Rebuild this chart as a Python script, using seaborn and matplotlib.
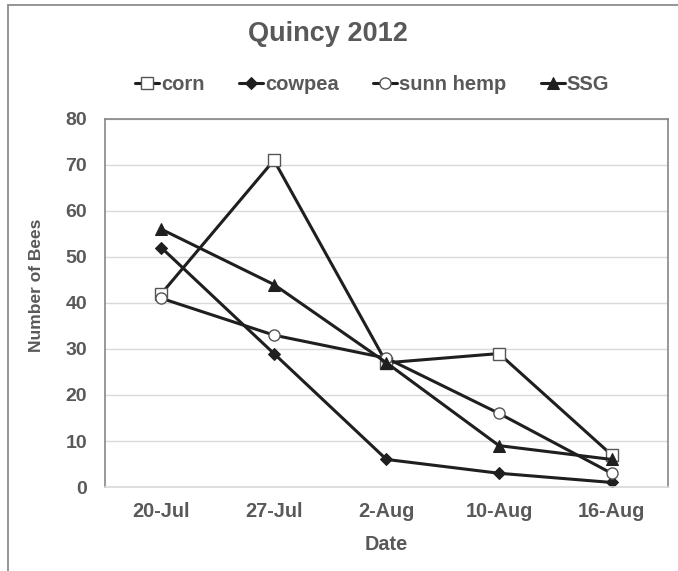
import numpy as np
import pandas as pd
import seaborn as sns
import matplotlib.pyplot as plt
from matplotlib.lines import Line2D

dates = ["20-Jul", "27-Jul", "2-Aug", "10-Aug", "16-Aug"]
corn = [42, 71, 27, 29, 7]
cowpea = [52, 29, 6, 3, 1]
sunn_hemp = [41, 33, 28, 16, 3]
ssg = [56, 44, 27, 9, 6]

series_names = ["corn", "cowpea", "sunn hemp", "SSG"]
series_values = [corn, cowpea, sunn_hemp, ssg]

TEXT = "#595959"
LINE = "#1f1f1f"

sns.set_theme(style="white")
plt.rcParams['font.family'] = ['Liberation Sans', 'DejaVu Sans']
plt.rcParams['font.weight'] = 'bold'

rows = []
for name, vals in zip(series_names, series_values):
    for i, v in enumerate(vals):
        rows.append({"series": name, "pos": i, "date": dates[i], "bees": v})
df = pd.DataFrame(rows)

marker_style = {
    "corn": dict(marker="s", markerfacecolor="white", markeredgecolor="#555555", markersize=8, markeredgewidth=1.0),
    "cowpea": dict(marker="D", markerfacecolor=LINE, markeredgecolor=LINE, markersize=6),
    "sunn hemp": dict(marker="o", markerfacecolor="white", markeredgecolor="#555555", markersize=8, markeredgewidth=1.0),
    "SSG": dict(marker="^", markerfacecolor=LINE, markeredgecolor=LINE, markersize=8),
}

fig = plt.figure(figsize=(6.78, 5.71), dpi=100)
ax = fig.add_axes([0.155, 0.147, 0.830, 0.645])

for name in series_names:
    sub = df[df["series"] == name]
    sns.lineplot(data=sub, x="pos", y="bees", ax=ax, color=LINE, linewidth=2.2,
                 label=name, **marker_style[name])

ax.set_xlim(-0.5, 4.5)
ax.set_ylim(0, 80)
ax.set_yticks(np.arange(0, 81, 10))
ax.set_xticks(range(len(dates)))
ax.set_xticklabels(dates)
ax.set_xticks(np.arange(-0.5, 4.6, 1), minor=True)
ax.tick_params(axis="x", which="major", length=0, pad=11, labelsize=14.3, labelcolor=TEXT)
ax.tick_params(axis="x", which="minor", length=6, width=1, color="#bfbfbf", direction="out")
ax.tick_params(axis="y", length=0, pad=13, labelsize=14, labelcolor=TEXT)
for lab in ax.get_xticklabels() + ax.get_yticklabels():
    lab.set_fontweight("bold")

ax.grid(axis="y", color="#d9d9d9", linewidth=1)
ax.set_axisbelow(True)
ax.spines["bottom"].set_color("#d9d9d9")
ax.spines["left"].set_color("#868686")
ax.spines["top"].set_color("#868686")
ax.spines["right"].set_color("#868686")
for s in ax.spines.values():
    s.set_linewidth(1.2)

ax.set_xlabel("Date", fontsize=14.3, fontweight="bold", color=TEXT, labelpad=10)
ax.set_ylabel("Number of Bees", fontsize=12.5, fontweight="bold", color=TEXT)
ax.yaxis.set_label_coords((36 - 105) / 563, (487 - 285) / 368)
ax.yaxis.label.set_verticalalignment("center")

ax.legend_.remove()
handles, labels = ax.get_legend_handles_labels()
fig.legend(handles, labels, loc="center", bbox_to_anchor=(372 / 678, 1 - 85 / 571),
           ncol=4, frameon=False, handlelength=1.2, handletextpad=0.1, columnspacing=1.7,
           prop={"size": 14.5, "weight": "bold"}, labelcolor=TEXT)

fig.text(328 / 678, 1 - 34 / 571, "Quincy 2012", ha="center", va="center",
         fontsize=19.5, fontweight="bold", color=TEXT)

# outer chart frame
fig.add_artist(Line2D([8 / 678, 1.0], [1 - 5 / 571, 1 - 5 / 571], transform=fig.transFigure,
                      color="#8c8c8c", linewidth=1.3))
fig.add_artist(Line2D([8 / 678, 8 / 678], [0, 1 - 5 / 571], transform=fig.transFigure,
                      color="#8c8c8c", linewidth=1.3))

fig.savefig("out.png", dpi=100, facecolor="white")
plt.close()
